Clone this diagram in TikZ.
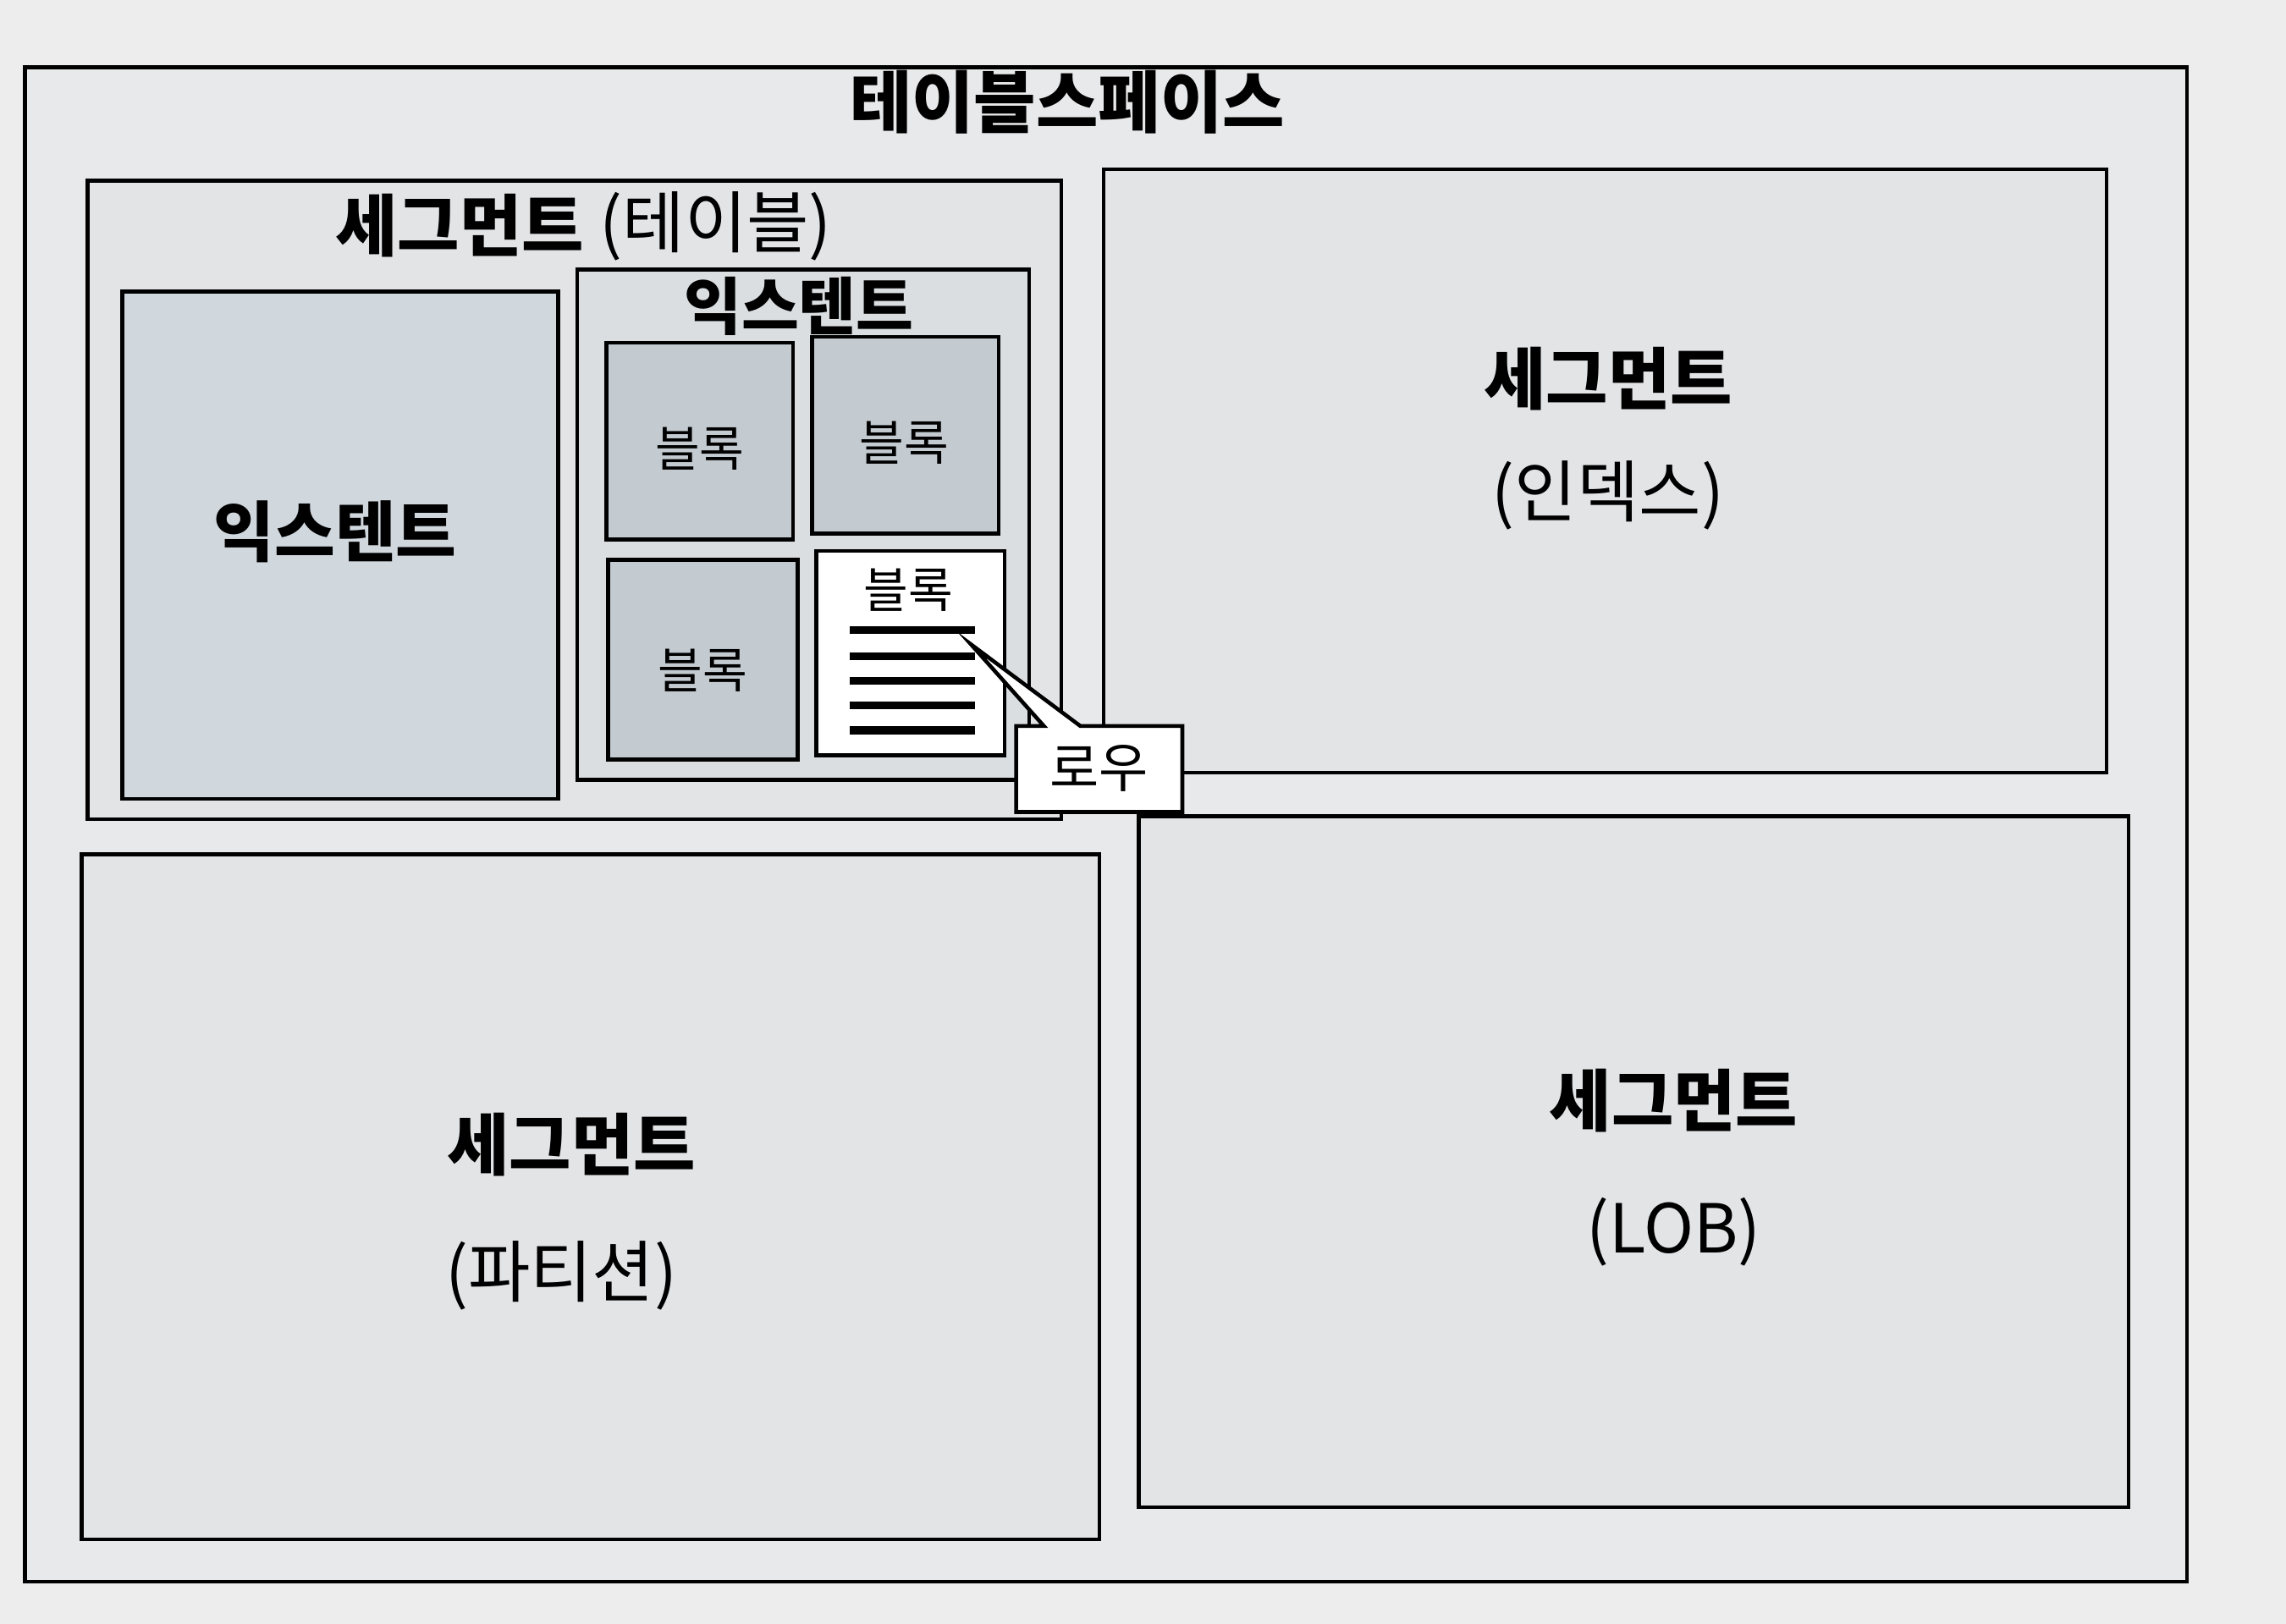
\documentclass[tikz,border=0pt]{standalone}
\usepackage{fontspec}
\setmainfont{Noto Sans CJK KR}
\definecolor{paper}{HTML}{EDEDED}
\definecolor{tsfill}{HTML}{E8E9EA}
\definecolor{segfill}{HTML}{E2E4E6}
\definecolor{extfill}{HTML}{D0D7DD}
\definecolor{innerfill}{HTML}{DADEE1}
\definecolor{blockfill}{HTML}{C3CAD0}
\tikzset{
  box/.style={draw=black, line width=1.3pt, inner sep=0pt},
  bigbold/.style={font=\fontsize{22.7}{26}\selectfont\bfseries},
  bigreg/.style={font=\fontsize{22.7}{26}\selectfont},
  blocktxt/.style={font=\fontsize{16.3}{19}\selectfont},
}
\begin{document}
\begin{tikzpicture}[x=0.017226cm, y=-0.017226cm]
\fill[paper] (0,0) rectangle (1568,1114);
\useasboundingbox (0,0) rectangle (1568,1114);
% tablespace
\draw[box, fill=tsfill] (17,46) rectangle (1500,1085);
\node[bigbold] (ts) at (732,70) {테이블스페이스};
% segment (table)
\draw[box, fill=segfill] (60,124) rectangle (728,562);
\node[bigbold, anchor=east, inner sep=0pt] (segtab) at (401,155) {세그먼트};
\node[bigreg, anchor=west, inner sep=0pt] (segtabsub) at (411,155) {(테이블)};
% left extent
\draw[box, fill=extfill] (84,200) rectangle (383,548);
\node[font=\fontsize{22.2}{26}\selectfont\bfseries] (ext1) at (230,365) {익스텐트};
% inner extent
\draw[box, fill=innerfill] (396,185) rectangle (706,535);
\node[font=\fontsize{21}{25}\selectfont\bfseries] (ext2) at (548,210) {익스텐트};
% blocks
\draw[box, fill=blockfill] (416,235) rectangle (544,370);
\node[blocktxt] (b1) at (480,308) {블록};
\draw[box, fill=blockfill] (557,231) rectangle (685,366);
\node[blocktxt] (b2) at (620,304) {블록};
\draw[box, fill=blockfill] (417,384) rectangle (547,521);
\node[blocktxt] (b3) at (482,460) {블록};
\draw[box, fill=white] (560,378) rectangle (689,518);
\node[blocktxt] (b4) at (623,405) {블록};
% rows
\foreach \yy in {432,450,467,484,501}
  \draw[line width=2.6pt] (583,\yy) -- (669,\yy);
% segment (index)
\draw[box, fill=segfill] (757,116) rectangle (1445,530);
\node[bigbold] (segidx) at (1103,260) {세그먼트};
\node[bigreg] (segidxsub) at (1103,340) {(인덱스)};
% segment (partition)
\draw[box, fill=segfill] (56,586) rectangle (754,1056);
\node[bigbold] (segpart) at (392,785) {세그먼트};
\node[bigreg] (segpartsub) at (385,875) {(파티션)};
% segment (LOB)
\draw[box, fill=segfill] (781,560) rectangle (1460,1034);
\node[bigbold] (seglob) at (1148,755) {세그먼트};
\node[bigreg] (seglobsub) at (1148,845) {(LOB)};
% callout
\coordinate (tip) at (666,442);
\draw[black, line width=1.3pt, fill=white, line join=miter]
  (697,498) -- (716,498) -- (tip) -- (741,498) -- (811,498) -- (811,557) -- (697,557) -- cycle;
\node[font=\fontsize{18}{21}\selectfont] (row) at (754,527) {로우};
\end{tikzpicture}
\end{document}
